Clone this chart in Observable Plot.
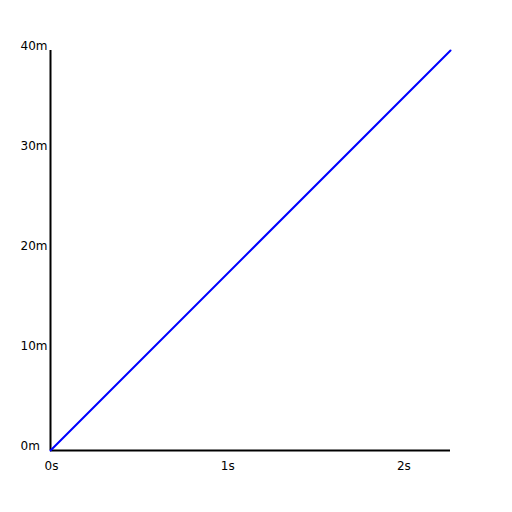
<!DOCTYPE html>
<html><head><meta charset="utf-8">
<script src="https://cdn.jsdelivr.net/npm/d3@7"></script>
<script src="https://cdn.jsdelivr.net/npm/@observablehq/plot@0.6"></script>
<style>body{margin:0;background:#fff}</style>
</head><body><div id="chart"></div>
<script>
const times = [0, 2.27];
const distances = [0, 40];
const xTicks = [0, 1, 2];
const yTicks = [0, 10, 20, 30, 40];
const data = times.map((t, i) => ({t, d: distances[i]}));
const chart = Plot.plot({
  width: 512, height: 512,
  marginLeft: 50, marginRight: 62, marginTop: 50, marginBottom: 62,
  style: {fontFamily: "DejaVu Sans", fontSize: "12px", background: "#fff", color: "#000"},
  x: {domain: [0, 2.27], label: null},
  y: {domain: [0, 40], label: null},
  marks: [
    Plot.axisX({ticks: xTicks, tickFormat: d => d + "s", tickSize: 0, tickPadding: 11, dx: 1, fill: "#000", label: null}),
    Plot.axisY({ticks: yTicks, tickFormat: d => d + "m", tickSize: 0, tickPadding: 30, textAnchor: "start", dy: -4, fill: "#000", label: null}),
    Plot.ruleX([0], {stroke: "#000", strokeWidth: 2}),
    Plot.ruleY([0], {stroke: "#000", strokeWidth: 2}),
    Plot.line(data, {x: "t", y: "d", stroke: "#0000ff", strokeWidth: 2})
  ]
});
document.getElementById("chart").appendChild(chart);
</script></body></html>
